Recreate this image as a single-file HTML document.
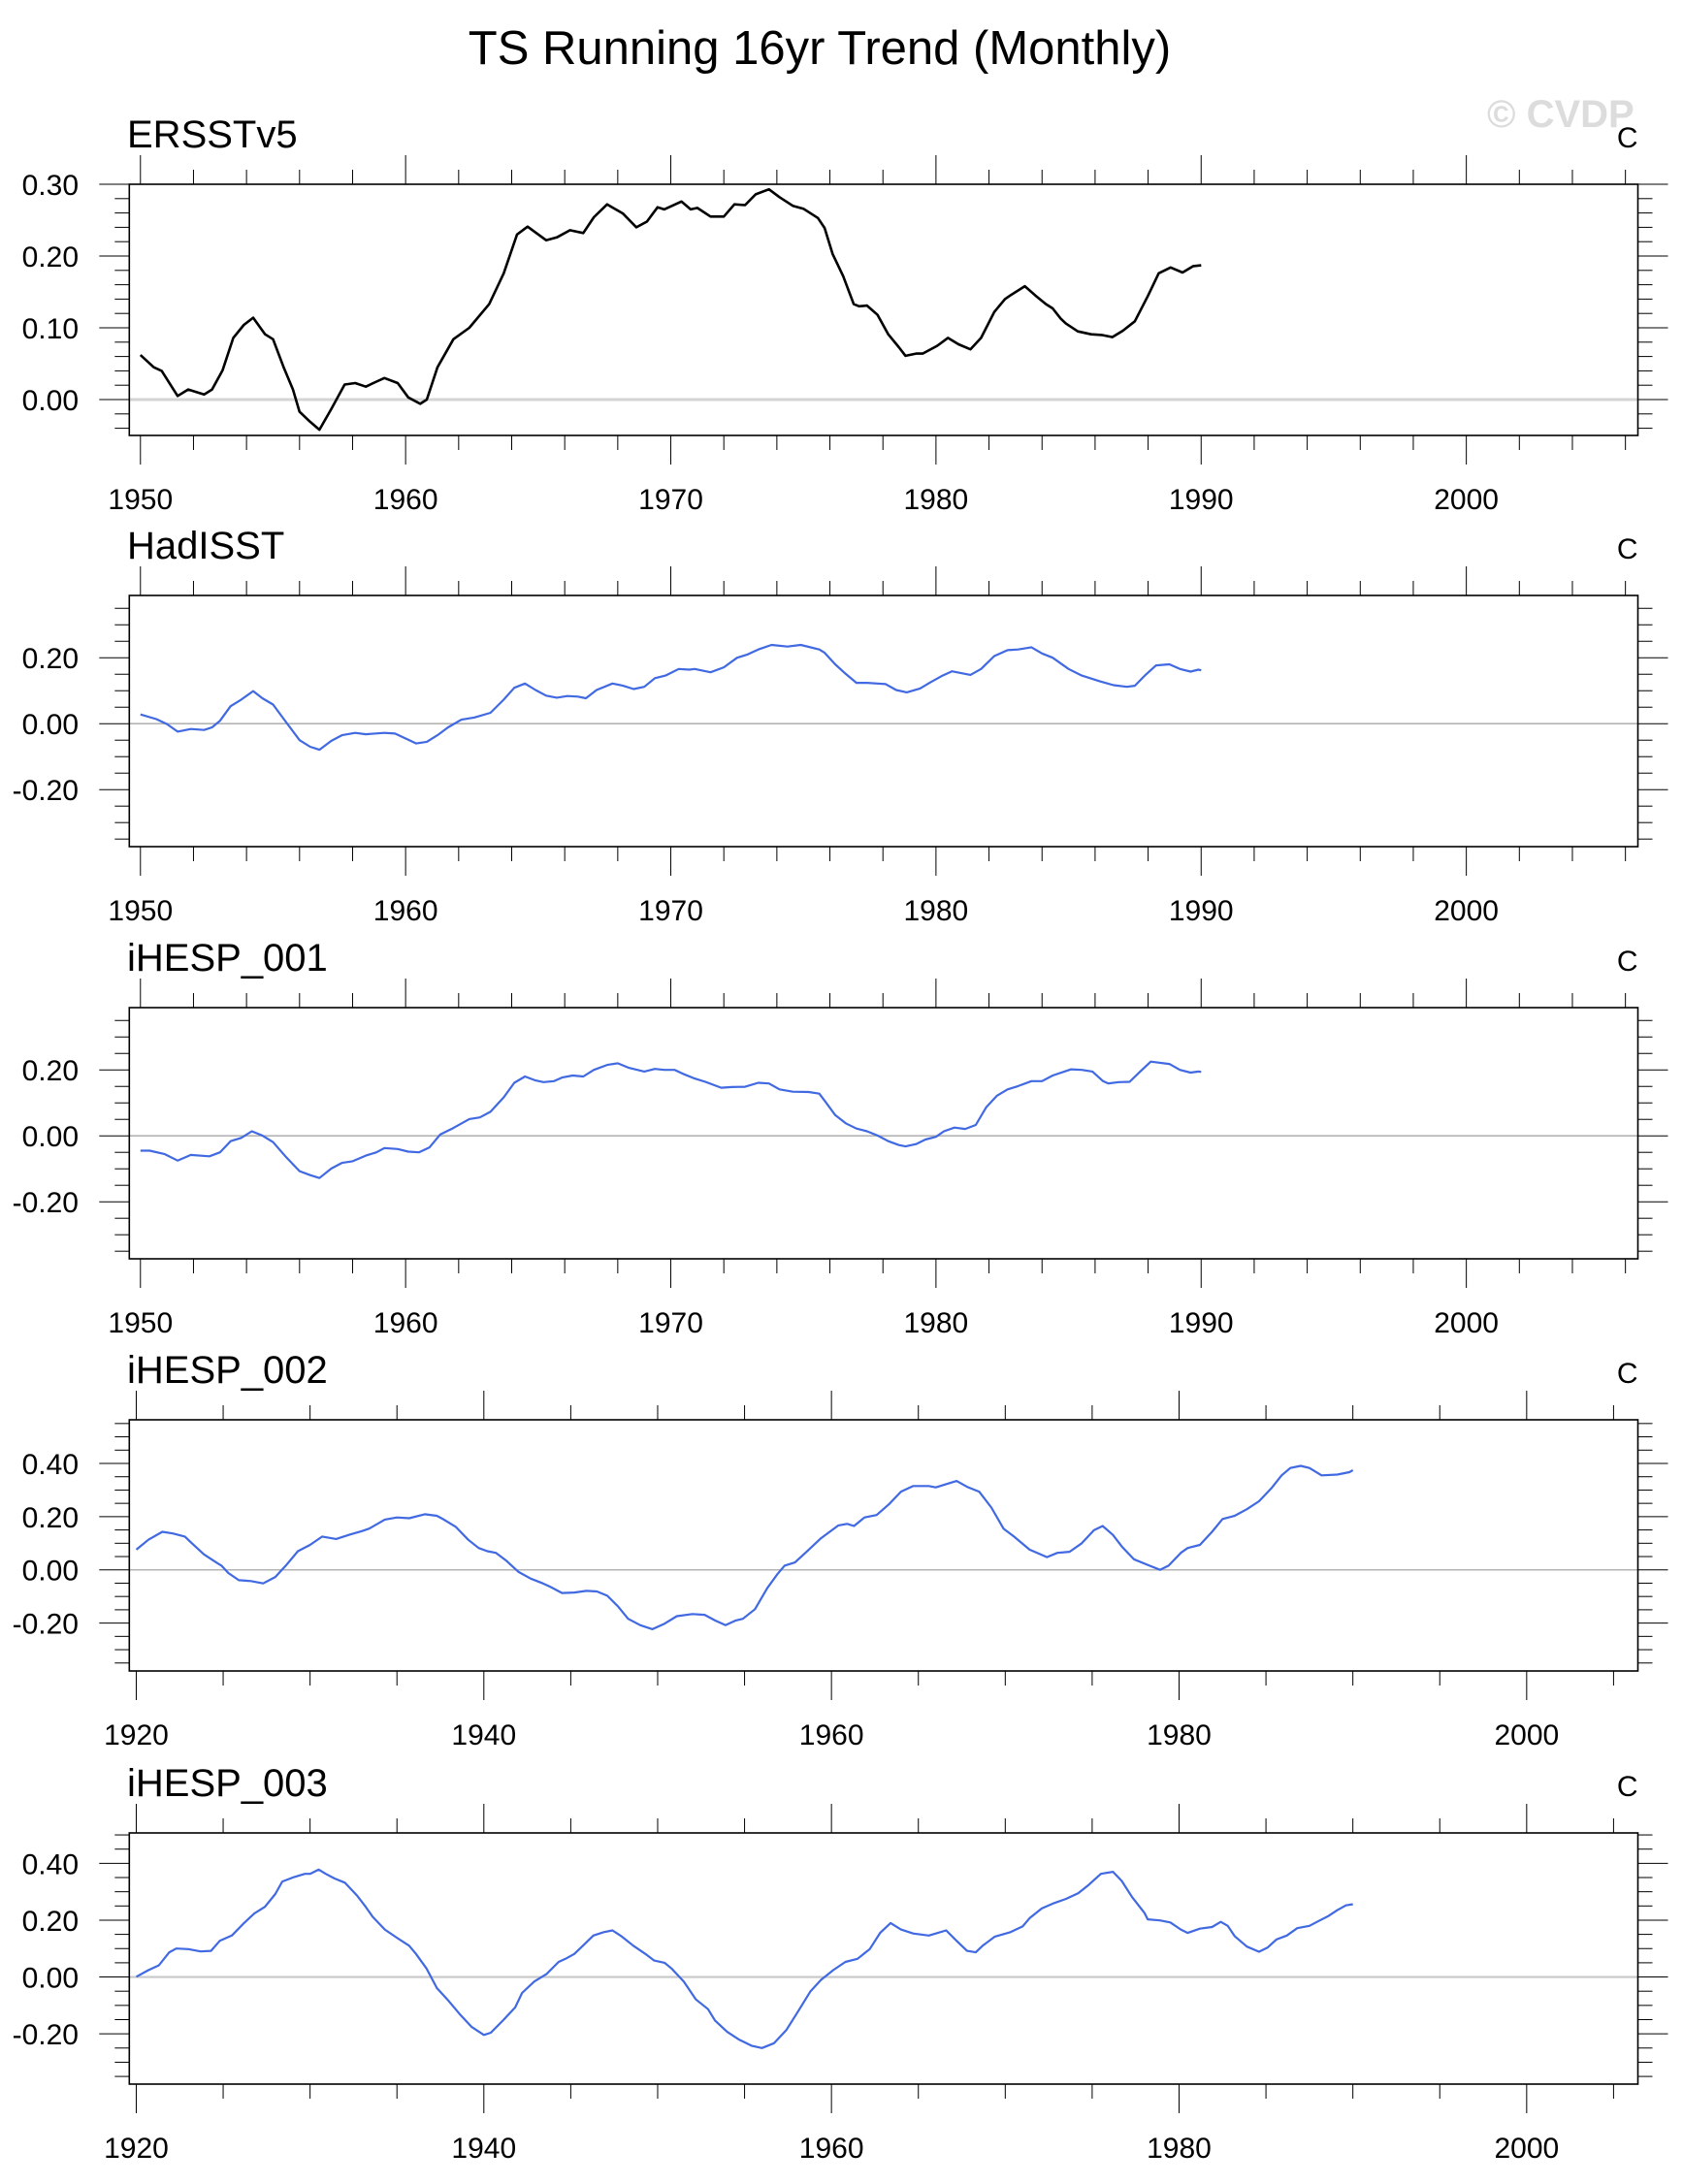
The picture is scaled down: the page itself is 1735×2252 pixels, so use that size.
<!DOCTYPE html>
<html><head><meta charset="utf-8"><style>
html,body{margin:0;padding:0;background:#fff;}
svg{display:block;font-family:"Liberation Sans",Arial,sans-serif;}
</style></head>
<body>
<svg id="chart" width="1735" height="2252" viewBox="0 0 1735 2252" xmlns="http://www.w3.org/2000/svg">
<rect width="1735" height="2252" fill="#fff"/>
<text x="845" y="66" font-size="49" text-anchor="middle">TS Running 16yr Trend (Monthly)</text>
<text x="1533" y="131" font-size="40" font-weight="bold" fill="#dcdcdc">© CVDP</text>
</svg>
<script>
// ---- data: [year, value] pairs ----
const ersstYears = [1950,1950.5,1950.8,1951.4,1951.8,1952.4,1952.7,1953.1,1953.5,1953.9,1954.25,1954.7,1955,1955.4,1955.75,1956,1956.4,1956.75,1957.2,1957.7,1958.1,1958.5,1958.9,1959.2,1959.7,1960.1,1960.55,1960.8,1961.2,1961.8,1962.4,1963.15,1963.7,1964.2,1964.6,1965.3,1965.7,1966.2,1966.7,1967.1,1967.6,1968.2,1968.7,1969.1,1969.5,1969.75,1970.4,1970.75,1971,1971.5,1972,1972.4,1972.8,1973.2,1973.7,1974.1,1974.6,1975,1975.55,1975.8,1976.1,1976.5,1976.9,1977.1,1977.4,1977.8,1978.2,1978.6,1978.85,1979.25,1979.5,1980.05,1980.45,1980.85,1981.3,1981.7,1982.2,1982.6,1982.8,1983.35,1983.75,1984.15,1984.4,1984.7,1984.9,1985.35,1985.85,1986.25,1986.65,1987.05,1987.5,1988,1988.4,1988.85,1989.3,1989.7,1990];
const ersstVals = [0.062,0.045,0.04,0.005,0.014,0.007,0.014,0.041,0.086,0.104,0.114,0.091,0.084,0.045,0.014,-0.017,-0.031,-0.042,-0.013,0.021,0.023,0.018,0.025,0.030,0.023,0.003,-0.006,0.000,0.045,0.084,0.100,0.133,0.176,0.230,0.241,0.222,0.226,0.236,0.232,0.254,0.272,0.259,0.240,0.248,0.268,0.265,0.276,0.265,0.267,0.255,0.255,0.272,0.271,0.286,0.293,0.282,0.270,0.266,0.253,0.239,0.203,0.172,0.133,0.130,0.131,0.118,0.091,0.073,0.061,0.064,0.064,0.075,0.086,0.077,0.070,0.086,0.122,0.140,0.145,0.158,0.145,0.133,0.127,0.113,0.106,0.095,0.091,0.090,0.087,0.096,0.109,0.145,0.176,0.184,0.177,0.186,0.187];

const hadYears = [1950,1950.6,1951,1951.4,1951.9,1952.4,1952.7,1953,1953.4,1953.8,1954.25,1954.6,1955,1955.5,1956,1956.4,1956.75,1957.2,1957.6,1958.1,1958.5,1959.2,1959.6,1960,1960.4,1960.8,1961.2,1961.6,1962.1,1962.6,1963.2,1963.7,1964.1,1964.5,1964.9,1965.3,1965.7,1966.1,1966.5,1966.8,1967.2,1967.8,1968.2,1968.6,1969,1969.4,1969.8,1970.3,1970.7,1970.9,1971.5,1972,1972.5,1972.9,1973.3,1973.8,1974.4,1974.9,1975.6,1975.8,1976.2,1976.6,1977,1977.4,1977.8,1978.1,1978.5,1978.9,1979.4,1979.8,1980.2,1980.6,1981.3,1981.7,1982.2,1982.7,1983.1,1983.6,1984,1984.4,1985,1985.5,1986.2,1986.7,1987.2,1987.5,1987.9,1988.3,1988.8,1989.2,1989.6,1989.9,1990];
const hadVals = [0.028,0.014,-0.001,-0.024,-0.016,-0.019,-0.011,0.009,0.053,0.073,0.099,0.077,0.058,0.004,-0.050,-0.070,-0.079,-0.052,-0.035,-0.028,-0.032,-0.028,-0.030,-0.045,-0.060,-0.055,-0.035,-0.011,0.012,0.019,0.033,0.073,0.109,0.122,0.102,0.085,0.079,0.084,0.082,0.077,0.102,0.122,0.115,0.105,0.112,0.138,0.146,0.166,0.164,0.166,0.156,0.171,0.200,0.210,0.225,0.239,0.234,0.239,0.225,0.215,0.180,0.151,0.124,0.124,0.122,0.120,0.102,0.095,0.107,0.126,0.144,0.159,0.148,0.166,0.205,0.223,0.225,0.232,0.213,0.200,0.166,0.146,0.128,0.117,0.112,0.115,0.148,0.177,0.180,0.166,0.158,0.164,0.162];

const e1Years = [1950,1950.35,1950.9,1951.4,1951.9,1952.6,1953,1953.4,1953.8,1954.2,1954.6,1955,1955.5,1956,1956.4,1956.75,1957.2,1957.6,1958,1958.5,1958.9,1959.2,1959.7,1960.1,1960.5,1960.9,1961.3,1961.8,1962.4,1962.8,1963.2,1963.7,1964.1,1964.5,1964.9,1965.2,1965.6,1965.9,1966.3,1966.7,1967.1,1967.6,1968,1968.4,1969,1969.4,1969.75,1970.15,1970.5,1970.9,1971.3,1971.9,1972.3,1972.8,1973.3,1973.7,1974.1,1974.6,1975.2,1975.6,1975.8,1976.2,1976.6,1977,1977.4,1977.8,1978.2,1978.6,1978.85,1979.25,1979.6,1980,1980.3,1980.7,1981.1,1981.5,1981.9,1982.3,1982.7,1983.1,1983.6,1984,1984.4,1985.1,1985.5,1985.9,1986.3,1986.5,1986.9,1987.3,1987.7,1988.1,1988.8,1989.2,1989.6,1989.9,1990];
const e1Vals = [-0.045,-0.045,-0.055,-0.075,-0.058,-0.062,-0.050,-0.016,-0.006,0.014,0.001,-0.019,-0.065,-0.107,-0.119,-0.128,-0.099,-0.082,-0.077,-0.060,-0.050,-0.037,-0.040,-0.048,-0.050,-0.035,0.004,0.024,0.051,0.056,0.073,0.117,0.161,0.180,0.168,0.163,0.166,0.177,0.183,0.180,0.200,0.215,0.220,0.207,0.195,0.203,0.200,0.200,0.187,0.174,0.164,0.146,0.148,0.149,0.161,0.159,0.141,0.134,0.133,0.128,0.107,0.063,0.038,0.022,0.014,0.001,-0.016,-0.028,-0.032,-0.025,-0.011,-0.003,0.014,0.025,0.021,0.033,0.087,0.122,0.141,0.151,0.166,0.166,0.183,0.202,0.200,0.195,0.166,0.159,0.163,0.164,0.195,0.225,0.218,0.200,0.192,0.195,0.194];

const e2Years = [1920,1920.7,1921.5,1922.1,1922.8,1923.2,1923.9,1924.6,1924.9,1925.3,1925.9,1926.6,1927.3,1928,1928.6,1929.3,1930,1930.7,1931.5,1932.3,1933,1933.4,1934.3,1935,1935.7,1936.6,1937.3,1937.7,1938.4,1939.1,1939.7,1940.2,1940.7,1941.3,1942,1942.7,1943.4,1943.8,1944.5,1945.2,1945.9,1946.5,1947.1,1947.7,1948.3,1949,1949.7,1950.4,1951.1,1952,1952.7,1953.3,1953.9,1954.5,1954.9,1955.6,1956.3,1956.9,1957.3,1957.9,1958.5,1959.4,1960.4,1960.9,1961.3,1961.9,1962.6,1963.3,1964,1964.7,1965.6,1966,1966.7,1967.2,1967.8,1968.5,1969.2,1969.9,1970.5,1971.4,1972.4,1973,1973.7,1974.4,1975.1,1975.6,1976.2,1976.7,1977.4,1978.3,1978.9,1979.4,1980.1,1980.5,1981.2,1981.9,1982.5,1983.2,1983.9,1984.6,1985.3,1985.9,1986.4,1987,1987.5,1988.2,1989.1,1989.8,1990];
const e2Vals = [0.076,0.113,0.143,0.137,0.125,0.100,0.058,0.028,0.016,-0.012,-0.039,-0.042,-0.051,-0.027,0.016,0.070,0.094,0.125,0.116,0.133,0.146,0.155,0.189,0.197,0.194,0.209,0.203,0.189,0.161,0.113,0.082,0.070,0.064,0.034,-0.008,-0.033,-0.051,-0.063,-0.087,-0.085,-0.079,-0.081,-0.097,-0.136,-0.184,-0.208,-0.223,-0.202,-0.174,-0.166,-0.169,-0.190,-0.208,-0.190,-0.184,-0.148,-0.069,-0.015,0.016,0.028,0.064,0.119,0.167,0.173,0.165,0.197,0.206,0.246,0.294,0.315,0.315,0.310,0.324,0.334,0.312,0.294,0.234,0.155,0.125,0.076,0.048,0.064,0.068,0.100,0.149,0.165,0.131,0.088,0.040,0.016,0.000,0.016,0.064,0.082,0.094,0.143,0.191,0.203,0.228,0.258,0.306,0.355,0.383,0.391,0.383,0.355,0.358,0.367,0.375];

const e3Years = [1920,1920.7,1921.3,1921.9,1922.3,1923,1923.7,1924.3,1924.8,1925.5,1926.2,1926.8,1927.4,1928,1928.4,1929.1,1929.7,1930,1930.5,1930.9,1931.4,1932,1932.7,1933.2,1933.6,1934.3,1935,1935.7,1936.1,1936.7,1937.3,1937.9,1938.6,1939.3,1940,1940.4,1941.1,1941.8,1942.2,1942.9,1943.6,1944.3,1944.7,1945.2,1945.7,1946.3,1946.9,1947.4,1947.9,1948.6,1949.3,1949.8,1950.4,1950.8,1951.5,1952.2,1952.9,1953.3,1954,1954.7,1955.4,1956,1956.7,1957.4,1958.1,1958.8,1959.4,1960.1,1960.8,1961.5,1962.2,1962.8,1963.4,1964,1964.7,1965.6,1966,1966.6,1967.2,1967.8,1968.3,1968.7,1969.4,1970.3,1971,1971.4,1972.1,1972.8,1973.5,1974.2,1974.8,1975.5,1976.2,1976.7,1977.3,1978,1978.2,1978.9,1979.5,1980.1,1980.5,1981.2,1981.9,1982.4,1982.8,1983.2,1983.9,1984.6,1985.1,1985.6,1986.2,1986.8,1987.5,1988.1,1988.6,1989.1,1989.6,1990];
const e3Vals = [0.001,0.024,0.041,0.087,0.100,0.098,0.090,0.092,0.127,0.146,0.190,0.224,0.247,0.292,0.336,0.352,0.363,0.363,0.378,0.363,0.347,0.332,0.287,0.247,0.212,0.167,0.138,0.110,0.081,0.030,-0.039,-0.079,-0.130,-0.176,-0.204,-0.196,-0.153,-0.107,-0.056,-0.016,0.010,0.053,0.064,0.081,0.110,0.146,0.158,0.164,0.144,0.110,0.081,0.058,0.050,0.030,-0.016,-0.079,-0.113,-0.153,-0.193,-0.221,-0.242,-0.250,-0.233,-0.187,-0.119,-0.050,-0.010,0.024,0.053,0.064,0.098,0.155,0.190,0.167,0.153,0.146,0.153,0.164,0.127,0.092,0.087,0.110,0.142,0.158,0.178,0.207,0.241,0.260,0.275,0.295,0.324,0.363,0.370,0.338,0.281,0.226,0.203,0.199,0.192,0.167,0.155,0.170,0.176,0.194,0.180,0.144,0.107,0.089,0.104,0.132,0.146,0.172,0.180,0.199,0.215,0.235,0.252,0.256];

const panelTitles = ["ERSSTv5","HadISST","iHESP_001","iHESP_002","iHESP_003"];
const yTickLabels1 = ["0.30","0.20","0.10","0.00"];
const yTickLabels2 = ["0.20","0.00","-0.20"];
const yTickLabels45 = ["0.40","0.20","0.00","-0.20"];
const xTickLabelsA = ["1950","1960","1970","1980","1990","2000"];
const xTickLabelsB = ["1920","1940","1960","1980","2000"];

const NS = "http://www.w3.org/2000/svg";
const svg = document.getElementById("chart");
function mk(tag, attrs, parent) {
  const e = document.createElementNS(NS, tag);
  for (const k in attrs) e.setAttribute(k, attrs[k]);
  (parent || svg).appendChild(e);
  return e;
}

const L = 133.3, R = 1688.5, H = 259;
const panels = [
  {top:190,  ymin:-0.05, ymax:0.30, xmin:1949.58, xmax:2006.47, xs:ersstYears, ys:ersstVals, color:"#000", lw:2.6,
   yLabels:yTickLabels1, yMinor:0.02, xLabels:xTickLabelsA, xMajor:10, xMinor:2, zeroColor:"#d4d4d4", zeroW:3},
  {top:614,  ymin:-0.373, ymax:0.389, xmin:1949.58, xmax:2006.47, xs:hadYears, ys:hadVals, color:"#4169e1", lw:2.2,
   yLabels:yTickLabels2, yMinor:0.05, xLabels:xTickLabelsA, xMajor:10, xMinor:2, zeroColor:"#b4b4b4", zeroW:1.6},
  {top:1039, ymin:-0.373, ymax:0.389, xmin:1949.58, xmax:2006.47, xs:e1Years, ys:e1Vals, color:"#4169e1", lw:2.2,
   yLabels:yTickLabels2, yMinor:0.05, xLabels:xTickLabelsA, xMajor:10, xMinor:2, zeroColor:"#b4b4b4", zeroW:1.6},
  {top:1464, ymin:-0.38, ymax:0.564, xmin:1919.6, xmax:2006.4, xs:e2Years, ys:e2Vals, color:"#4169e1", lw:2.2,
   yLabels:yTickLabels45, yMinor:0.05, xLabels:xTickLabelsB, xMajor:20, xMinor:5, zeroColor:"#b4b4b4", zeroW:1.6},
  {top:1890, ymin:-0.377, ymax:0.507, xmin:1919.6, xmax:2006.4, xs:e3Years, ys:e3Vals, color:"#4169e1", lw:2.2,
   yLabels:yTickLabels45, yMinor:0.05, xLabels:xTickLabelsB, xMajor:20, xMinor:5, zeroColor:"#c8c8c8", zeroW:2.2}
];

panels.forEach((p, i) => {
  const g = mk("g", {});
  
  
  const T = p.top, B = p.top + H;
  const xs = v => L + (v - p.xmin) / (p.xmax - p.xmin) * (R - L);
  const ys = v => B - (v - p.ymin) / (p.ymax - p.ymin) * H;

  const t = mk("text", {x:131, y:T-38, "font-size":40}, g);
  t.textContent = panelTitles[i];
  
  
  const u = mk("text", {x:R, y:T-38, "font-size":30, "text-anchor":"end"}, g);
  u.textContent = "C";
  
  

  const z = mk("line", {x1:L, x2:R, y1:ys(0), y2:ys(0), stroke:p.zeroColor, "stroke-width":p.zeroW}, g);
  
  

  const nStart = Math.ceil(p.ymin / p.yMinor - 1e-6), nEnd = Math.floor(p.ymax / p.yMinor + 1e-6);
  for (let n = nStart; n <= nEnd; n++) {
    const v = n * p.yMinor, y = ys(v);
    const major = p.yLabels.some(s => Math.abs(parseFloat(s) - v) < 1e-6);
    const len = major ? 31 : 15;
    mk("line", {x1:L-len, x2:L, y1:y, y2:y, stroke:"#000", "stroke-width":1}, g);
    mk("line", {x1:R, x2:R+len, y1:y, y2:y, stroke:"#000", "stroke-width":1}, g);
  }
  p.yLabels.forEach(s => {
    const lb = mk("text", {x:81, y:ys(parseFloat(s)) + 11, "font-size":30, "text-anchor":"end"}, g);
    lb.textContent = s;
    
    
  });

  const x0 = Math.ceil(p.xmin / p.xMinor) * p.xMinor;
  for (let yr = x0; yr <= p.xmax; yr += p.xMinor) {
    const x = xs(yr);
    const major = yr % p.xMajor === 0;
    const len = major ? 30 : 15;
    mk("line", {x1:x, x2:x, y1:T-len, y2:T, stroke:"#000", "stroke-width":1}, g);
    mk("line", {x1:x, x2:x, y1:B, y2:B+len, stroke:"#000", "stroke-width":1}, g);
  }
  p.xLabels.forEach(s => {
    const lb = mk("text", {x:xs(parseFloat(s)), y:B+76, "font-size":30, "text-anchor":"middle"}, g);
    lb.textContent = s;
    
    
  });

  const fr = mk("rect", {x:L, y:T, width:R-L, height:H, fill:"none", stroke:"#000", "stroke-width":1.6}, g);
  
  

  const d = p.xs.map((yr, k) => (k ? "L" : "M") + xs(yr).toFixed(1) + "," + ys(p.ys[k]).toFixed(1)).join("");
  const path = mk("path", {d:d, fill:"none", stroke:p.color, "stroke-width":p.lw, "stroke-linejoin":"round"}, g);
  
  
});
</script>
</body></html>
